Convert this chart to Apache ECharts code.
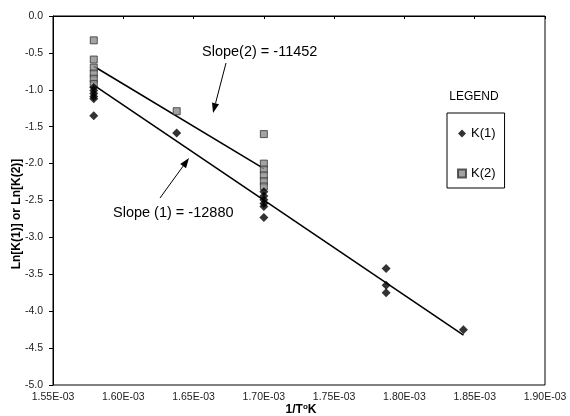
<!DOCTYPE html>
<html><head><meta charset="utf-8">
<script src="https://cdn.jsdelivr.net/npm/echarts@6/dist/echarts.min.js"></script>
<style>html,body{margin:0;padding:0;background:#fff}#c{width:570px;height:416px}</style>
</head><body><div id="c"></div>
<script>
// Reciprocal temperature (1/K) and natural log of the rate constants
const k1X = [1.579e-3, 1.579e-3, 1.579e-3, 1.579e-3, 1.579e-3, 1.579e-3,
             1.638e-3,
             1.700e-3, 1.700e-3, 1.700e-3, 1.700e-3, 1.700e-3, 1.700e-3,
             1.787e-3, 1.787e-3, 1.787e-3,
             1.842e-3];
const k1Y = [-0.97, -1.01, -1.05, -1.09, -1.12, -1.35,
             -1.585,
             -2.38, -2.44, -2.49, -2.54, -2.58, -2.73,
             -3.42, -3.65, -3.75,
             -4.25];
const k2X = [1.579e-3, 1.579e-3, 1.579e-3, 1.579e-3, 1.579e-3, 1.579e-3,
             1.638e-3,
             1.700e-3, 1.700e-3, 1.700e-3, 1.700e-3, 1.700e-3, 1.700e-3];
const k2Y = [-0.33, -0.59, -0.70, -0.78, -0.85, -0.92,
             -1.29,
             -1.60, -2.00, -2.08, -2.16, -2.24, -2.31];

// Axis ranges
const xMin = 1.55e-3, xMax = 1.90e-3, xStep = 0.05e-3;
const yMin = -5.0, yMax = 0.0, yStep = 0.5;

// Arrhenius fit lines: ln K = slope * (1/T) + intercept
const fit1 = { slope: -12880, intercept: 19.401, from: 1.579e-3, to: 1.842e-3 };
const fit2 = { slope: -11452, intercept: 17.401, from: 1.579e-3, to: 1.700e-3 };

const FONT = '"Liberation Sans", Arial, sans-serif';

function pairs(xs, ys) { return xs.map((x, i) => [x, ys[i]]); }
function fitLine(f) {
  return [[f.from, f.slope * f.from + f.intercept], [f.to, f.slope * f.to + f.intercept]];
}
function arrow(x1, y1, x2, y2) {
  const a = Math.atan2(y2 - y1, x2 - x1), L = 10, W = 3.6;
  const bx = x2 - L * Math.cos(a), by = y2 - L * Math.sin(a);
  const nx = -Math.sin(a) * W, ny = Math.cos(a) * W;
  return {
    type: 'group', children: [
      { type: 'line', shape: { x1: x1, y1: y1, x2: bx, y2: by }, style: { stroke: '#000', lineWidth: 1 } },
      { type: 'polygon', shape: { points: [[x2, y2], [bx + nx, by + ny], [bx - nx, by - ny]] }, style: { fill: '#000' } }
    ]
  };
}

const chart = echarts.init(document.getElementById('c'), null, { renderer: 'canvas' });
chart.setOption({
  backgroundColor: '#fff',
  animation: false,
  grid: { left: 53, right: 25, top: 16, bottom: 31, show: true, borderColor: '#000', borderWidth: 1, backgroundColor: 'transparent' },
  xAxis: {
    type: 'value', min: xMin, max: xMax, interval: xStep,
    axisLine: { show: true, lineStyle: { color: '#000', width: 1 } },
    axisTick: { show: true, length: 3, lineStyle: { color: '#000' } },
    splitLine: { show: false },
    axisLabel: { color: '#222', fontFamily: FONT, fontSize: 10.5, margin: 7,
      formatter: v => (v * 1000).toFixed(2) + 'E-03' }
  },
  yAxis: {
    type: 'value', min: yMin, max: yMax, interval: yStep,
    axisLine: { show: true, lineStyle: { color: '#000', width: 1 } },
    axisTick: { show: true, length: 4, lineStyle: { color: '#000' } },
    splitLine: { show: false },
    axisLabel: { color: '#222', fontFamily: FONT, fontSize: 10.5, margin: 10,
      formatter: v => v.toFixed(1) }
  },
  legend: {
    orient: 'vertical', left: 447, top: 113,
    itemWidth: 8, itemHeight: 8, itemGap: 27,
    borderColor: '#000', borderWidth: 1, padding: [14, 9, 8, 10],
    textStyle: { fontFamily: FONT, fontSize: 13, color: '#000' },
    data: [{ name: 'K(1)', icon: 'diamond' }, { name: 'K(2)', icon: 'rect' }]
  },
  series: [
    { name: 'fit1', type: 'line', data: fitLine(fit1), symbol: 'none', silent: true,
      lineStyle: { color: '#000', width: 1.6 }, z: 1 },
    { name: 'fit2', type: 'line', data: fitLine(fit2), symbol: 'none', silent: true,
      lineStyle: { color: '#000', width: 1.6 }, z: 1 },
    { name: 'K(1)', type: 'scatter', data: pairs(k1X, k1Y), symbol: 'diamond', symbolSize: [9, 9],
      itemStyle: { color: '#000' }, z: 3 },
    { name: 'K(2)', type: 'scatter', data: pairs(k2X, k2Y), symbol: 'rect', symbolSize: 7,
      itemStyle: { color: '#8c8c8c', borderColor: '#333', borderWidth: 1 }, z: 2 }
  ],
  graphic: [
    { type: 'text', x: 474, y: 97, style: { text: 'LEGEND', fill: '#000', font: '12px ' + FONT, textAlign: 'center', textVerticalAlign: 'middle' } },
    { type: 'text', x: 202, y: 52, style: { text: 'Slope(2) = -11452', fill: '#000', font: '14.5px ' + FONT, textVerticalAlign: 'middle' } },
    { type: 'text', x: 113, y: 213, style: { text: 'Slope (1) = -12880', fill: '#000', font: '14.5px ' + FONT, textVerticalAlign: 'middle' } },
    arrow(226, 63, 213, 113),
    arrow(160, 198, 189, 158),
    { type: 'text', rotation: Math.PI / 2, x: 17, y: 214,
      style: { text: 'Ln[K(1)] or Ln[K(2)]', fill: '#000', font: 'bold 12px ' + FONT, textAlign: 'center', textVerticalAlign: 'middle' } },
    { type: 'text', x: 301, y: 410,
      style: { text: '1/T{s|o}K', fill: '#000', font: 'bold 12px ' + FONT, textAlign: 'center', textVerticalAlign: 'middle',
        rich: { s: { fontSize: 8, fontWeight: 'bold', fontFamily: FONT, verticalAlign: 'top', padding: [0, 0, 7, 0] } } } }
  ]
});
</script>
</body></html>
